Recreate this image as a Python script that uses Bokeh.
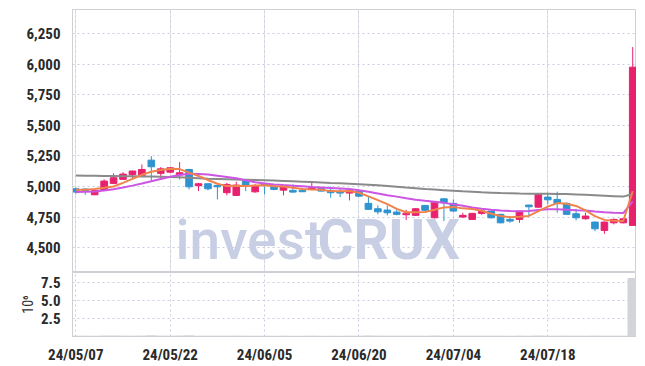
from bokeh.plotting import figure
from bokeh.layouts import column
from bokeh.models import Range1d, FixedTicker, Label, ColumnDataSource, NumeralTickFormatter, Grid
from bokeh.embed import file_html
from bokeh.resources import INLINE

dates = ["24/05/07", "24/05/08", "24/05/09", "24/05/10", "24/05/13", "24/05/14", "24/05/16", "24/05/17",
         "24/05/20", "24/05/21", "24/05/22", "24/05/23", "24/05/24", "24/05/27", "24/05/28", "24/05/29",
         "24/05/30", "24/05/31", "24/06/03", "24/06/04", "24/06/05", "24/06/07", "24/06/10", "24/06/11",
         "24/06/12", "24/06/13", "24/06/14", "24/06/17", "24/06/18", "24/06/19", "24/06/20", "24/06/21",
         "24/06/24", "24/06/25", "24/06/26", "24/06/27", "24/06/28", "24/07/01", "24/07/02", "24/07/03",
         "24/07/04", "24/07/05", "24/07/08", "24/07/09", "24/07/10", "24/07/11", "24/07/12", "24/07/15",
         "24/07/16", "24/07/17", "24/07/18", "24/07/19", "24/07/22", "24/07/23", "24/07/24", "24/07/25",
         "24/07/26", "24/07/29", "24/07/30", "24/07/31"]

opens = [4982, 4980, 4933, 4969, 5026, 5059, 5097, 5091, 5216, 5108,
         5118, 5097, 5140, 5007, 5023, 5010, 4950, 4928, 5045, 4957,
         5026, 5004, 4971, 4969, 4969, 4980, 4985, 4969, 4957, 4947,
         4963, 4863, 4819, 4808, 4792, 4770, 4765, 4846, 4745, 4900,
         4863, 4751, 4732, 4781, 4800, 4773, 4732, 4732, 4849, 4832,
         4914, 4895, 4863, 4778, 4737, 4710, 4642, 4704, 4704, 4683]
highs = [4993, 4985, 4972, 5059, 5108, 5118, 5130, 5181, 5249, 5159,
         5160, 5200, 5145, 5030, 5025, 5012, 5030, 5039, 5050, 5020,
         5030, 5006, 5006, 5018, 4990, 5039, 4990, 5000, 4990, 4972,
         4970, 4917, 4846, 4846, 4814, 4810, 4825, 4850, 4880, 4905,
         4895, 4786, 4785, 4819, 4805, 4778, 4759, 4805, 4852, 4940,
         4950, 4958, 4870, 4819, 4786, 4715, 4715, 4738, 4742, 6140]
lows = [4941, 4933, 4930, 4965, 5020, 5055, 5070, 5085, 5045, 5067,
        5110, 5059, 4977, 4963, 4969, 4895, 4928, 4925, 4963, 4950,
        4936, 4970, 4928, 4950, 4955, 4970, 4960, 4909, 4914, 4887,
        4915, 4810, 4773, 4765, 4765, 4726, 4760, 4800, 4740, 4718,
        4795, 4745, 4728, 4770, 4740, 4700, 4704, 4704, 4759, 4828,
        4855, 4786, 4768, 4724, 4730, 4636, 4614, 4691, 4700, 4683]
closes = [4955, 4963, 4969, 5045, 5072, 5102, 5127, 5140, 5162, 5145,
          5154, 5113, 4998, 5023, 4982, 4998, 5018, 5012, 5012, 5004,
          5010, 4977, 5004, 4955, 4958, 4990, 4963, 4950, 4947, 4969,
          4922, 4814, 4794, 4786, 4773, 4783, 4819, 4806, 4873, 4868,
          4800, 4765, 4781, 4800, 4745, 4704, 4718, 4800, 4835, 4936,
          4892, 4863, 4773, 4745, 4759, 4655, 4710, 4732, 4737, 5976]
volumes = [52000, 41000, 38000, 66000, 71000, 58000, 49000, 62000, 95000, 57000,
           48000, 63000, 88000, 42000, 45000, 51000, 47000, 53000, 44000, 39000,
           41000, 36000, 43000, 37000, 34000, 46000, 35000, 38000, 33000, 40000,
           42000, 79000, 55000, 47000, 41000, 44000, 52000, 43000, 68000, 49000,
           46000, 39000, 42000, 45000, 48000, 51000, 37000, 56000, 44000, 72000,
           47000, 50000, 58000, 43000, 39000, 61000, 48000, 40000, 42000, 8100000]
ma5 = [4975, 4975, 4980, 4990, 5001, 5030, 5063, 5097, 5121, 5135,
       5146, 5143, 5114, 5087, 5054, 5023, 5004, 5007, 5004, 5009,
       5011, 5003, 5001, 4990, 4981, 4977, 4974, 4963, 4962, 4964,
       4950, 4920, 4889, 4857, 4818, 4790, 4791, 4793, 4811, 4830,
       4833, 4822, 4817, 4803, 4778, 4759, 4750, 4753, 4760, 4799,
       4836, 4865, 4860, 4842, 4806, 4759, 4728, 4720, 4719, 4962]
ma20 = [4955, 4957, 4960, 4968, 4978, 4992, 5008, 5025, 5043, 5062,
        5080, 5095, 5104, 5103, 5098, 5088, 5078, 5068, 5052, 5035,
        5025, 5018, 5012, 5007, 5002, 4997, 4993, 4989, 4985, 4980,
        4970, 4958, 4944, 4930, 4918, 4904, 4893, 4884, 4876, 4867,
        4855, 4843, 4830, 4818, 4810, 4804, 4800, 4798, 4800, 4808,
        4815, 4814, 4810, 4806, 4804, 4796, 4790, 4786, 4784, 4880]
ma60 = [5090, 5089, 5088, 5087, 5086, 5085, 5084, 5083, 5082, 5080,
        5078, 5076, 5073, 5069, 5064, 5062, 5060, 5057, 5055, 5053,
        5051, 5049, 5046, 5043, 5040, 5037, 5034, 5030, 5028, 5024,
        5020, 5015, 5010, 5004, 4998, 4992, 4987, 4981, 4976, 4971,
        4966, 4961, 4957, 4953, 4950, 4947, 4945, 4943, 4942, 4942,
        4941, 4940, 4939, 4936, 4933, 4930, 4926, 4922, 4918, 4940]
date_ticks = ["24/05/07", "24/05/22", "24/06/05", "24/06/20", "24/07/04", "24/07/18"]
price_ticks = [4500, 4750, 5000, 5250, 5500, 5750, 6000, 6250]
volume_ticks = [2.5, 5.0, 7.5]

RED = "#e8216e"
BLUE = "#2e93cf"
GRID = "#c9cde0"
BORDER = "#cfcfd6"
FONT = "Roboto Condensed, DejaVu Sans Condensed, Liberation Sans Narrow, Roboto"
WM = "#c8cfe4"
LABEL = "#2a2a2a"

idx = list(range(len(dates)))
colors = [RED if c >= o else BLUE for o, c in zip(opens, closes)]
src = ColumnDataSource(dict(
    x=idx, high=highs, low=lows,
    top=[max(o, c) for o, c in zip(opens, closes)],
    bottom=[min(o, c) for o, c in zip(opens, closes)],
    color=colors,
))
tick_pos = [dates.index(d) for d in date_ticks]
xr = Range1d(-0.35, 59.4)

p = figure(width=636, height=272, x_range=xr, y_range=Range1d(4298, 6447),
           output_backend="svg", toolbar_location=None, x_axis_location=None,
           min_border_left=72, min_border_right=0, min_border_top=9, min_border_bottom=0)
p.outline_line_color = BORDER
p.background_fill_color = "white"
p.border_fill_color = "white"
p.ygrid.grid_line_color = GRID
p.ygrid.grid_line_dash = "2 3"
p.add_layout(Grid(dimension=0, ticker=FixedTicker(ticks=tick_pos),
                  grid_line_color=GRID, grid_line_dash="2 3"))
p.yaxis.ticker = FixedTicker(ticks=price_ticks)
p.yaxis.formatter = NumeralTickFormatter(format="0,0")
p.yaxis.major_tick_line_color = None
p.yaxis.minor_tick_line_color = None
p.yaxis.axis_line_color = BORDER
p.yaxis.major_label_standoff = 6
p.yaxis.major_label_text_font = FONT
p.yaxis.major_label_text_font_style = "bold"
p.yaxis.major_label_text_font_size = "15px"
p.yaxis.major_label_text_color = LABEL

p.add_layout(Label(x=10.56, y=4306, text="invest", text_font="Roboto Medium, Roboto", text_font_size="55px",
                   text_color=WM, level="underlay"))
p.add_layout(Label(x=25.6, y=4306, text="CRUX", text_font="Roboto", text_font_style="bold",
                   text_font_size="55px", text_color=WM, level="underlay"))

p.segment(x0="x", y0="low", x1="x", y1="high", color="color", line_width=1, source=src)
p.vbar(x="x", width=0.7, top="top", bottom="bottom", fill_color="color", line_color="color", source=src)
p.line(idx, ma60, color="#8a8a8a", line_width=2)
p.line(idx, ma20, color="#cc55e3", line_width=2)
p.line(idx, ma5, color="#f0834c", line_width=2)

vol_m = [v / 1e6 for v in volumes]
q = figure(width=636, height=94, x_range=xr, y_range=Range1d(0, 8.94),
           output_backend="svg", toolbar_location=None,
           min_border_left=72, min_border_right=0, min_border_top=0, min_border_bottom=29)
q.outline_line_color = BORDER
q.vbar(x=idx, top=vol_m, width=1.0, color="#d3d3da")
q.ygrid.grid_line_color = GRID
q.ygrid.grid_line_dash = "2 3"
q.xgrid.grid_line_color = GRID
q.xgrid.grid_line_dash = "2 3"
q.xaxis.ticker = FixedTicker(ticks=tick_pos)
q.xaxis.major_label_overrides = {i: d for i, d in zip(tick_pos, date_ticks)}
q.yaxis.ticker = FixedTicker(ticks=volume_ticks)
q.yaxis.formatter = NumeralTickFormatter(format="0.0")
q.yaxis.axis_label = "10⁶"
q.yaxis.axis_label_text_font_style = "normal"
q.yaxis.axis_label_text_font = FONT
q.yaxis.axis_label_text_font_size = "14px"
q.yaxis.axis_label_text_color = "#333333"
q.yaxis.axis_label_standoff = 2
for ax in (q.xaxis, q.yaxis):
    ax.major_tick_line_color = None
    ax.minor_tick_line_color = None
    ax.axis_line_color = BORDER
    ax.major_label_text_font = FONT
    ax.major_label_text_font_style = "bold"
    ax.major_label_text_color = LABEL
q.xaxis.major_label_standoff = 3
q.xaxis.major_label_text_font_size = "15px"
q.yaxis.major_label_standoff = 6
q.yaxis.major_label_text_font_size = "15px"

layout = column(p, q, spacing=0)
open("out.html", "w").write(file_html(layout, INLINE))
